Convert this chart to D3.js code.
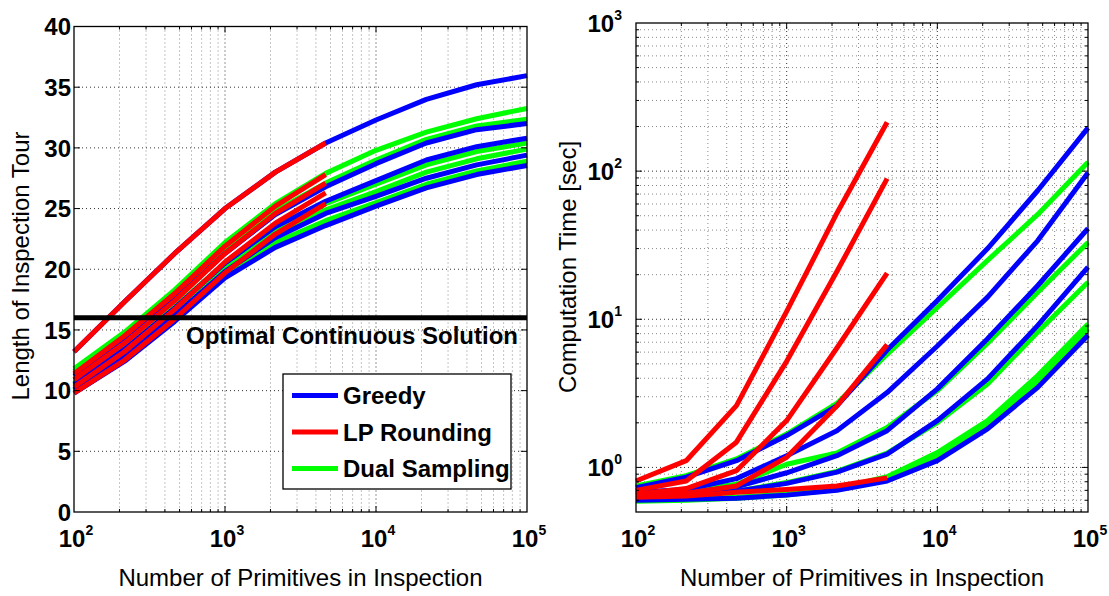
<!DOCTYPE html>
<html><head><meta charset="utf-8">
<script src="https://cdn.jsdelivr.net/npm/d3@7"></script>
<style>
html,body{margin:0;padding:0;background:#fff;}
svg{display:block;font-family:"Liberation Sans",Arial,Helvetica,sans-serif;}
</style></head><body>
<svg id="chart" width="1109" height="596"></svg>
<script>
// ---------------- DATA ----------------
const primitives = [100, 215.4, 464.2, 1000, 2154.4, 4641.6, 10000, 21544, 46416, 100000];

// Left: Length of inspection tour
const tourGreedy = [
  [13.2, 17.3, 21.3, 25.0, 28.0, 30.4, 32.3, 34.0, 35.2, 35.95],
  [11.2, 14.1, 17.5, 21.3, 24.5, 26.8, 28.7, 30.4, 31.5, 32.0],
  [10.5, 13.4, 16.8, 20.5, 23.5, 25.6, 27.3, 29.0, 30.1, 30.8],
  [10.1, 12.9, 16.2, 19.8, 22.6, 24.6, 26.0, 27.5, 28.6, 29.4],
  [9.8, 12.4, 15.7, 19.3, 21.8, 23.6, 25.2, 26.7, 27.8, 28.55]
];
const tourLP = [
  [13.2, 17.3, 21.3, 25.0, 28.0, 30.4],
  [11.4, 14.5, 18.0, 21.9, 25.2, 27.8],
  [10.9, 13.9, 17.4, 21.3, 24.6, 27.1],
  [10.3, 13.2, 16.7, 20.6, 23.8, 26.3],
  [9.8, 12.5, 15.9, 19.7, 22.9, 25.4]
];
const tourDual = [
  [11.8, 14.8, 18.3, 22.2, 25.4, 27.9, 29.8, 31.3, 32.4, 33.25],
  [11.6, 14.4, 17.8, 21.6, 24.8, 27.1, 29.0, 30.7, 31.8, 32.35],
  [10.6, 13.5, 16.9, 20.5, 23.4, 25.4, 27.0, 28.6, 29.7, 30.4],
  [10.4, 13.2, 16.5, 20.1, 23.0, 24.9, 26.4, 28.0, 29.1, 29.9],
  [10.0, 12.7, 16.0, 19.5, 22.2, 24.0, 25.5, 27.0, 28.1, 28.9]
];
const optimalLength = 16;
const optimalLabel = "Optimal Continuous Solution";

// Right: Computation time [sec]
const timeGreedy = [
  [0.73, 0.86, 1.11, 1.64, 2.6, 6.2, 13.4, 30, 74, 196],
  [0.68, 0.71, 0.84, 1.2, 1.77, 3.2, 6.6, 14.1, 34, 97.5],
  [0.64, 0.67, 0.74, 0.92, 1.2, 1.77, 3.39, 7.4, 16.9, 41],
  [0.62, 0.64, 0.69, 0.78, 0.93, 1.23, 2.07, 3.96, 9.1, 22.5],
  [0.6, 0.61, 0.62, 0.65, 0.7, 0.81, 1.11, 1.82, 3.47, 7.8]
];
const timeLP = [
  [0.81, 1.11, 2.61, 11.3, 52, 214],
  [0.7, 0.81, 1.48, 5.2, 21, 89],
  [0.66, 0.72, 0.95, 2.07, 6.4, 20.5],
  [0.64, 0.67, 0.75, 1.17, 2.6, 6.75],
  [0.63, 0.64, 0.68, 0.71, 0.75, 0.85]
];
const timeDual = [
  [0.75, 0.88, 1.14, 1.68, 2.7, 5.8, 12, 25, 51, 115],
  [0.66, 0.69, 0.77, 1.05, 1.25, 1.86, 3.3, 6.9, 15.2, 33],
  [0.62, 0.64, 0.69, 0.79, 0.94, 1.25, 2.01, 3.66, 8.2, 17.8],
  [0.6, 0.61, 0.63, 0.66, 0.72, 0.865, 1.26, 2.07, 4.17, 9.3],
  [0.59, 0.6, 0.62, 0.65, 0.71, 0.84, 1.18, 1.95, 3.8, 8.6]
];

const seriesNames = ["Greedy", "LP Rounding", "Dual Sampling"];
const seriesColors = ["#0000ff", "#ff0000", "#00ff00"];
const tourTicks = [0, 5, 10, 15, 20, 25, 30, 35, 40];
const xTickExps = [2, 3, 4, 5];
const timeTickExps = [0, 1, 2, 3];
const xTitle = "Number of Primitives in Inspection";
const leftTitle = "Length of Inspection Tour";
const rightTitle = "Computation Time [sec]";

// ---------------- DRAW ----------------
const svg = d3.select("#chart");
const BOLD = 700;

function minorLog(lo, hi) {
  const out = [];
  for (let d = Math.floor(Math.log10(lo)); d <= Math.ceil(Math.log10(hi)); d++) {
    for (let m = 2; m <= 9; m++) {
      const v = m * Math.pow(10, d);
      if (v > lo * 1.0001 && v < hi * 0.9999) out.push(v);
    }
  }
  return out;
}

function powLabel(sel, exp) {
  sel.append("tspan").text("10");
  sel.append("tspan").attr("font-size", 14).attr("dy", -12).text(String(exp));
}

function drawPanel(p) {
  const g = svg.append("g");
  const x = p.x, y = p.y;
  const [x0, x1] = x.range();
  const [yb, yt] = y.range();

  // grid
  const grid = g.append("g");
  const xMajor = xTickExps.map(e => Math.pow(10, e)).filter(v => v > 100 && v < 1e5);
  const xMinor = minorLog(100, 1e5);
  xMinor.forEach(v => grid.append("line").attr("x1", x(v)).attr("x2", x(v)).attr("y1", yt).attr("y2", yb)
    .attr("stroke", "#8a8a8a").attr("stroke-width", 1).attr("stroke-dasharray", "1,3"));
  xMajor.forEach(v => grid.append("line").attr("x1", x(v)).attr("x2", x(v)).attr("y1", yt).attr("y2", yb)
    .attr("stroke", "#333").attr("stroke-width", 1).attr("stroke-dasharray", "1,3"));
  p.yMinor.forEach(v => grid.append("line").attr("x1", x0).attr("x2", x1).attr("y1", y(v)).attr("y2", y(v))
    .attr("stroke", "#8a8a8a").attr("stroke-width", 1).attr("stroke-dasharray", "1,3"));
  p.yMajorGrid.forEach(v => grid.append("line").attr("x1", x0).attr("x2", x1).attr("y1", y(v)).attr("y2", y(v))
    .attr("stroke", "#333").attr("stroke-width", 1).attr("stroke-dasharray", "1,3"));

  if (p.extra) p.extra(g);

  // series: green, blue, red order
  const line = d3.line().x((d, i) => x(primitives[i])).y(d => y(d));
  const order = [2, 0, 1];
  order.forEach(si => {
    p.data[si].forEach(arr => {
      g.append("path").attr("d", line(arr)).attr("fill", "none")
        .attr("stroke", seriesColors[si]).attr("stroke-width", 5)
        .attr("stroke-linejoin", "round").attr("stroke-linecap", "butt");
    });
  });

  if (p.after) p.after(g);

  // axes box + ticks
  const ax = g.append("g").attr("stroke", "#000");
  ax.append("rect").attr("x", x0).attr("y", yt).attr("width", x1 - x0).attr("height", yb - yt)
    .attr("fill", "none").attr("stroke-width", 1.3);
  xMajor.forEach(v => {
    ax.append("line").attr("x1", x(v)).attr("x2", x(v)).attr("y1", yb).attr("y2", yb - 6);
    ax.append("line").attr("x1", x(v)).attr("x2", x(v)).attr("y1", yt).attr("y2", yt + 6);
  });
  xMinor.forEach(v => {
    ax.append("line").attr("x1", x(v)).attr("x2", x(v)).attr("y1", yb).attr("y2", yb - 3);
    ax.append("line").attr("x1", x(v)).attr("x2", x(v)).attr("y1", yt).attr("y2", yt + 3);
  });
  p.yMajorGrid.forEach(v => {
    ax.append("line").attr("x1", x0).attr("x2", x0 + 6).attr("y1", y(v)).attr("y2", y(v));
    ax.append("line").attr("x1", x1).attr("x2", x1 - 6).attr("y1", y(v)).attr("y2", y(v));
  });
  p.yMinor.forEach(v => {
    ax.append("line").attr("x1", x0).attr("x2", x0 + 3).attr("y1", y(v)).attr("y2", y(v));
    ax.append("line").attr("x1", x1).attr("x2", x1 - 3).attr("y1", y(v)).attr("y2", y(v));
  });

  // x tick labels
  xTickExps.forEach(e => {
    const t = g.append("text").attr("x", x(Math.pow(10, e)) + 2).attr("y", 547)
      .attr("text-anchor", "middle").attr("font-size", 24).attr("font-weight", BOLD).attr("fill", "#000");
    powLabel(t, e);
  });
  // y tick labels
  p.yLabels(g);

  // titles
  g.append("text").attr("x", (x0 + x1) / 2).attr("y", 586).attr("text-anchor", "middle")
    .attr("font-size", 24).attr("fill", "#000").text(xTitle);
  g.append("text").attr("transform", `translate(${p.ytX},${p.ytY}) rotate(-90)`)
    .attr("text-anchor", "middle").attr("font-size", 24).attr("fill", "#000").text(p.yTitle);
}

// Left panel
const xL = d3.scaleLog().domain([100, 1e5]).range([74, 527]);
const yL = d3.scaleLinear().domain([0, 40]).range([512, 26.5]);
drawPanel({
  x: xL, y: yL,
  data: [tourGreedy, tourLP, tourDual],
  yMinor: [],
  yMajorGrid: tourTicks.filter(v => v > 0 && v < 40),
  yTitle: leftTitle, ytX: 29, ytY: 266,
  yLabels: g => tourTicks.forEach(v => g.append("text").attr("x", 71).attr("y", yL(v)).attr("dy", "0.36em")
    .attr("text-anchor", "end").attr("font-size", 24).attr("font-weight", BOLD).attr("fill", "#000").text(v)),
  after: g => {
    g.append("line").attr("x1", 74).attr("x2", 527).attr("y1", yL(optimalLength)).attr("y2", yL(optimalLength))
      .attr("stroke", "#000").attr("stroke-width", 5);
    g.append("text").attr("x", 518).attr("y", 344).attr("text-anchor", "end")
      .attr("font-size", 24).attr("font-weight", BOLD).attr("fill", "#000").text(optimalLabel);
    // legend
    const lg = g.append("g");
    lg.append("rect").attr("x", 283).attr("y", 374).attr("width", 228).attr("height", 115)
      .attr("fill", "#fff").attr("stroke", "#000").attr("stroke-width", 1.3);
    const ly = [395.5, 432, 468.5];
    seriesNames.forEach((n, i) => {
      lg.append("line").attr("x1", 292).attr("x2", 338).attr("y1", ly[i]).attr("y2", ly[i])
        .attr("stroke", seriesColors[i]).attr("stroke-width", 5);
      lg.append("text").attr("x", 343).attr("y", ly[i] + 8.5).attr("font-size", 24)
        .attr("font-weight", BOLD).attr("fill", "#000").text(n);
    });
  }
});

// Right panel
const xR = d3.scaleLog().domain([100, 1e5]).range([636, 1088]);
const yR = d3.scaleLog().domain([0.5, 1000]).range([512, 23]);
drawPanel({
  x: xR, y: yR,
  data: [timeGreedy, timeLP, timeDual],
  yMinor: minorLog(0.5, 1000).concat([0.6, 0.7, 0.8, 0.9].filter(v => false)),
  yMajorGrid: [1, 10, 100],
  yTitle: rightTitle, ytX: 576, ytY: 267,
  yLabels: g => timeTickExps.forEach(e => {
    const t = g.append("text").attr("x", 622).attr("y", yR(Math.pow(10, e)) + 8.5)
      .attr("text-anchor", "end").attr("font-size", 24).attr("font-weight", BOLD).attr("fill", "#000");
    powLabel(t, e);
  })
});
</script>
</body></html>
